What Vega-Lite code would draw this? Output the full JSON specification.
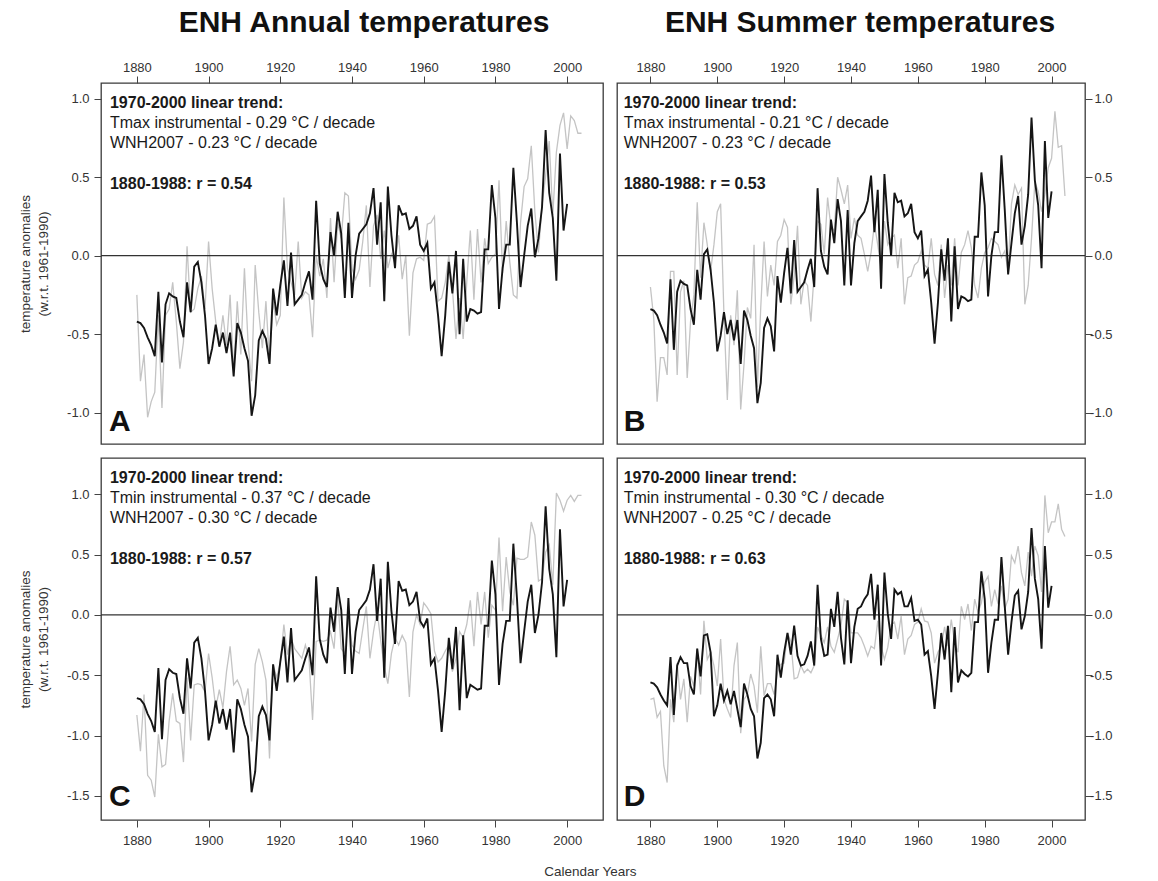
{
"$schema": "https://vega.github.io/schema/vega-lite/v6.json",
"background": "white",
"padding": {"left": 17, "top": 7, "right": 5, "bottom": 5},
"datasets": {"t": [
{"year":1880,"Ai":-0.42,"Aw":-0.25,"Bi":-0.34,"Bw":-0.20,"Ci":-0.69,"Cw":-0.83,"Di":-0.56,"Dw":-0.70},
{"year":1881,"Ai":-0.43,"Aw":-0.80,"Bi":-0.35,"Bw":-0.40,"Ci":-0.70,"Cw":-1.13,"Di":-0.57,"Dw":-0.69},
{"year":1882,"Ai":-0.46,"Aw":-0.63,"Bi":-0.38,"Bw":-0.93,"Ci":-0.74,"Cw":-0.66,"Di":-0.60,"Dw":-0.85},
{"year":1883,"Ai":-0.52,"Aw":-1.03,"Bi":-0.44,"Bw":-0.65,"Ci":-0.82,"Cw":-1.33,"Di":-0.66,"Dw":-0.80},
{"year":1884,"Ai":-0.57,"Aw":-0.93,"Bi":-0.49,"Bw":-0.65,"Ci":-0.88,"Cw":-1.37,"Di":-0.71,"Dw":-1.25},
{"year":1885,"Ai":-0.64,"Aw":-0.87,"Bi":-0.56,"Bw":-0.76,"Ci":-0.97,"Cw":-1.51,"Di":-0.75,"Dw":-1.39},
{"year":1886,"Ai":-0.23,"Aw":-0.38,"Bi":-0.15,"Bw":-0.10,"Ci":-0.44,"Cw":-0.99,"Di":-0.35,"Dw":-0.70},
{"year":1887,"Ai":-0.68,"Aw":-0.97,"Bi":-0.60,"Bw":-0.10,"Ci":-1.03,"Cw":-1.26,"Di":-0.83,"Dw":-0.89},
{"year":1888,"Ai":-0.31,"Aw":-0.38,"Bi":-0.23,"Bw":-0.76,"Ci":-0.54,"Cw":-1.24,"Di":-0.42,"Dw":-0.40},
{"year":1889,"Ai":-0.24,"Aw":-0.34,"Bi":-0.16,"Bw":-0.23,"Ci":-0.45,"Cw":-0.88,"Di":-0.35,"Dw":-0.70},
{"year":1890,"Ai":-0.26,"Aw":-0.17,"Bi":-0.18,"Bw":-0.16,"Ci":-0.48,"Cw":-0.65,"Di":-0.40,"Dw":-0.53},
{"year":1891,"Ai":-0.27,"Aw":-0.42,"Bi":-0.19,"Bw":-0.78,"Ci":-0.49,"Cw":-0.88,"Di":-0.40,"Dw":-0.89},
{"year":1892,"Ai":-0.42,"Aw":-0.72,"Bi":-0.34,"Bw":-0.42,"Ci":-0.69,"Cw":-0.90,"Di":-0.59,"Dw":-0.51},
{"year":1893,"Ai":-0.52,"Aw":-0.55,"Bi":-0.44,"Bw":-0.25,"Ci":-0.82,"Cw":-1.22,"Di":-0.66,"Dw":-0.59},
{"year":1894,"Ai":-0.17,"Aw":0.06,"Bi":-0.09,"Bw":0.34,"Ci":-0.36,"Cw":-0.52,"Di":-0.28,"Dw":-0.28},
{"year":1895,"Ai":-0.36,"Aw":-0.36,"Bi":-0.28,"Bw":-0.14,"Ci":-0.61,"Cw":-1.04,"Di":-0.51,"Dw":-0.66},
{"year":1896,"Ai":-0.07,"Aw":-0.34,"Bi":0.01,"Bw":0.21,"Ci":-0.23,"Cw":-0.58,"Di":-0.17,"Dw":-0.05},
{"year":1897,"Ai":-0.04,"Aw":-0.21,"Bi":0.04,"Bw":0.07,"Ci":-0.19,"Cw":-0.57,"Di":-0.16,"Dw":-0.37},
{"year":1898,"Ai":-0.17,"Aw":-0.13,"Bi":-0.09,"Bw":-0.10,"Ci":-0.36,"Cw":-0.58,"Di":-0.31,"Dw":-0.31},
{"year":1899,"Ai":-0.38,"Aw":-0.34,"Bi":-0.30,"Bw":0.07,"Ci":-0.63,"Cw":-0.64,"Di":-0.84,"Dw":-0.42},
{"year":1900,"Ai":-0.69,"Aw":0.09,"Bi":-0.61,"Bw":0.28,"Ci":-1.04,"Cw":-0.32,"Di":-0.75,"Dw":-0.59},
{"year":1901,"Ai":-0.59,"Aw":-0.21,"Bi":-0.51,"Bw":0.33,"Ci":-0.91,"Cw":-0.52,"Di":-0.57,"Dw":-0.20},
{"year":1902,"Ai":-0.44,"Aw":-0.42,"Bi":-0.36,"Bw":-0.38,"Ci":-0.71,"Cw":-0.77,"Di":-0.71,"Dw":-0.70},
{"year":1903,"Ai":-0.58,"Aw":-0.57,"Bi":-0.50,"Bw":-0.92,"Ci":-0.90,"Cw":-0.62,"Di":-0.63,"Dw":-0.78},
{"year":1904,"Ai":-0.49,"Aw":-0.38,"Bi":-0.41,"Bw":-0.38,"Ci":-0.78,"Cw":-0.77,"Di":-0.74,"Dw":-0.85},
{"year":1905,"Ai":-0.62,"Aw":-0.57,"Bi":-0.54,"Bw":-0.57,"Ci":-0.95,"Cw":-0.47,"Di":-0.63,"Dw":-0.42},
{"year":1906,"Ai":-0.49,"Aw":-0.25,"Bi":-0.41,"Bw":-0.22,"Ci":-0.78,"Cw":-0.26,"Di":-0.78,"Dw":-0.23},
{"year":1907,"Ai":-0.77,"Aw":-0.74,"Bi":-0.69,"Bw":-0.98,"Ci":-1.14,"Cw":-0.58,"Di":-0.93,"Dw":-0.98},
{"year":1908,"Ai":-0.43,"Aw":-0.29,"Bi":-0.35,"Bw":-0.69,"Ci":-0.70,"Cw":-0.54,"Di":-0.57,"Dw":-0.70},
{"year":1909,"Ai":-0.49,"Aw":-0.63,"Bi":-0.41,"Bw":-0.33,"Ci":-0.78,"Cw":-0.61,"Di":-0.66,"Dw":-0.66},
{"year":1910,"Ai":-0.59,"Aw":-0.08,"Bi":-0.51,"Bw":-0.40,"Ci":-0.91,"Cw":-0.75,"Di":-0.78,"Dw":-0.49},
{"year":1911,"Ai":-0.67,"Aw":-0.55,"Bi":-0.59,"Bw":0.07,"Ci":-1.01,"Cw":-0.61,"Di":-0.84,"Dw":-0.59},
{"year":1912,"Ai":-1.02,"Aw":-0.80,"Bi":-0.94,"Bw":-0.84,"Ci":-1.47,"Cw":-1.05,"Di":-1.19,"Dw":-0.81},
{"year":1913,"Ai":-0.89,"Aw":-0.06,"Bi":-0.81,"Bw":-0.33,"Ci":-1.30,"Cw":-0.41,"Di":-1.06,"Dw":-0.26},
{"year":1914,"Ai":-0.54,"Aw":-0.36,"Bi":-0.46,"Bw":0.09,"Ci":-0.84,"Cw":-0.28,"Di":-0.69,"Dw":-0.67},
{"year":1915,"Ai":-0.48,"Aw":-0.59,"Bi":-0.40,"Bw":-0.26,"Ci":-0.76,"Cw":-0.39,"Di":-0.66,"Dw":-0.57},
{"year":1916,"Ai":-0.53,"Aw":-0.29,"Bi":-0.45,"Bw":-0.06,"Ci":-0.83,"Cw":-0.54,"Di":-0.70,"Dw":-0.57},
{"year":1917,"Ai":-0.69,"Aw":-0.68,"Bi":-0.61,"Bw":-0.19,"Ci":-1.04,"Cw":-1.19,"Di":-0.84,"Dw":-0.66},
{"year":1918,"Ai":-0.21,"Aw":-0.29,"Bi":-0.13,"Bw":0.09,"Ci":-0.41,"Cw":-0.41,"Di":-0.33,"Dw":-0.48},
{"year":1919,"Ai":-0.38,"Aw":-0.44,"Bi":-0.30,"Bw":0.13,"Ci":-0.63,"Cw":-0.52,"Di":-0.52,"Dw":-0.41},
{"year":1920,"Ai":-0.19,"Aw":-0.38,"Bi":-0.11,"Bw":0.23,"Ci":-0.39,"Cw":-0.40,"Di":-0.31,"Dw":-0.40},
{"year":1921,"Ai":-0.03,"Aw":0.37,"Bi":0.05,"Bw":0.18,"Ci":-0.18,"Cw":-0.08,"Di":-0.15,"Dw":-0.15},
{"year":1922,"Ai":-0.32,"Aw":-0.08,"Bi":-0.24,"Bw":-0.31,"Ci":-0.56,"Cw":-0.33,"Di":-0.33,"Dw":-0.22},
{"year":1923,"Ai":0.02,"Aw":-0.17,"Bi":0.10,"Bw":-0.13,"Ci":-0.11,"Cw":-0.19,"Di":-0.09,"Dw":-0.53},
{"year":1924,"Ai":-0.31,"Aw":-0.25,"Bi":-0.23,"Bw":0.19,"Ci":-0.54,"Cw":-0.28,"Di":-0.34,"Dw":-0.52},
{"year":1925,"Ai":-0.28,"Aw":0.09,"Bi":-0.20,"Bw":-0.31,"Ci":-0.50,"Cw":-0.32,"Di":-0.42,"Dw":-0.42},
{"year":1926,"Ai":-0.25,"Aw":-0.27,"Bi":-0.17,"Bw":-0.16,"Ci":-0.46,"Cw":-0.36,"Di":-0.41,"Dw":-0.48},
{"year":1927,"Ai":-0.17,"Aw":-0.23,"Bi":-0.09,"Bw":-0.19,"Ci":-0.36,"Cw":-0.25,"Di":-0.34,"Dw":-0.45},
{"year":1928,"Ai":-0.10,"Aw":-0.25,"Bi":-0.02,"Bw":-0.42,"Ci":-0.27,"Cw":-0.36,"Di":-0.22,"Dw":-0.48},
{"year":1929,"Ai":-0.28,"Aw":-0.52,"Bi":-0.20,"Bw":-0.11,"Ci":-0.50,"Cw":-0.87,"Di":-0.42,"Dw":-0.42},
{"year":1930,"Ai":0.35,"Aw":0.00,"Bi":0.43,"Bw":0.22,"Ci":0.32,"Cw":-0.22,"Di":0.25,"Dw":-0.10},
{"year":1931,"Ai":-0.05,"Aw":-0.13,"Bi":0.03,"Bw":0.20,"Ci":-0.20,"Cw":-0.21,"Di":-0.20,"Dw":-0.17},
{"year":1932,"Ai":-0.15,"Aw":-0.02,"Bi":-0.07,"Bw":0.01,"Ci":-0.33,"Cw":-0.22,"Di":-0.34,"Dw":-0.23},
{"year":1933,"Ai":-0.20,"Aw":-0.27,"Bi":-0.12,"Bw":0.37,"Ci":-0.40,"Cw":-0.21,"Di":-0.33,"Dw":-0.10},
{"year":1934,"Ai":0.15,"Aw":0.24,"Bi":0.23,"Bw":0.18,"Ci":0.06,"Cw":-0.14,"Di":0.05,"Dw":-0.26},
{"year":1935,"Ai":0.00,"Aw":-0.17,"Bi":0.08,"Bw":0.16,"Ci":-0.14,"Cw":-0.28,"Di":-0.10,"Dw":-0.31},
{"year":1936,"Ai":0.28,"Aw":0.21,"Bi":0.36,"Bw":0.50,"Ci":0.23,"Cw":0.15,"Di":0.19,"Dw":-0.20},
{"year":1937,"Ai":0.14,"Aw":0.11,"Bi":0.22,"Bw":0.42,"Ci":0.04,"Cw":-0.28,"Di":-0.19,"Dw":-0.09},
{"year":1938,"Ai":-0.27,"Aw":0.40,"Bi":-0.19,"Bw":0.33,"Ci":-0.49,"Cw":-0.32,"Di":-0.41,"Dw":0.13},
{"year":1939,"Ai":0.21,"Aw":0.38,"Bi":0.29,"Bw":0.45,"Ci":0.14,"Cw":-0.03,"Di":0.12,"Dw":0.10},
{"year":1940,"Ai":-0.27,"Aw":-0.08,"Bi":-0.19,"Bw":0.11,"Ci":-0.49,"Cw":-0.25,"Di":-0.40,"Dw":-0.15},
{"year":1941,"Ai":0.00,"Aw":-0.15,"Bi":0.08,"Bw":0.24,"Ci":-0.14,"Cw":-0.30,"Di":-0.10,"Dw":-0.15},
{"year":1942,"Ai":0.14,"Aw":-0.09,"Bi":0.22,"Bw":0.13,"Ci":0.04,"Cw":-0.32,"Di":0.05,"Dw":-0.15},
{"year":1943,"Ai":0.17,"Aw":0.09,"Bi":0.25,"Bw":0.11,"Ci":0.08,"Cw":-0.12,"Di":0.07,"Dw":-0.19},
{"year":1944,"Ai":0.20,"Aw":0.32,"Bi":0.28,"Bw":0.01,"Ci":0.12,"Cw":0.07,"Di":0.13,"Dw":-0.26},
{"year":1945,"Ai":0.27,"Aw":-0.20,"Bi":0.35,"Bw":-0.10,"Ci":0.21,"Cw":-0.36,"Di":0.17,"Dw":-0.34},
{"year":1946,"Ai":0.43,"Aw":0.19,"Bi":0.51,"Bw":0.02,"Ci":0.42,"Cw":-0.14,"Di":0.34,"Dw":-0.26},
{"year":1947,"Ai":0.07,"Aw":0.26,"Bi":0.15,"Bw":0.20,"Ci":-0.05,"Cw":0.03,"Di":-0.04,"Dw":-0.28},
{"year":1948,"Ai":0.34,"Aw":-0.02,"Bi":0.42,"Bw":0.07,"Ci":0.30,"Cw":-0.21,"Di":0.25,"Dw":-0.05},
{"year":1949,"Ai":-0.29,"Aw":0.16,"Bi":-0.21,"Bw":-0.08,"Ci":-0.52,"Cw":-0.43,"Di":-0.42,"Dw":-0.26},
{"year":1950,"Ai":0.44,"Aw":-0.08,"Bi":0.52,"Bw":0.22,"Ci":0.44,"Cw":-0.57,"Di":0.35,"Dw":-0.37},
{"year":1951,"Ai":0.13,"Aw":0.01,"Bi":0.21,"Bw":0.07,"Ci":0.03,"Cw":-0.32,"Di":0.01,"Dw":-0.27},
{"year":1952,"Ai":-0.08,"Aw":-0.05,"Bi":0.00,"Bw":0.11,"Ci":-0.24,"Cw":-0.19,"Di":-0.20,"Dw":-0.08},
{"year":1953,"Ai":0.32,"Aw":0.13,"Bi":0.40,"Bw":0.13,"Ci":0.28,"Cw":-0.25,"Di":0.21,"Dw":-0.06},
{"year":1954,"Ai":0.26,"Aw":-0.15,"Bi":0.34,"Bw":-0.08,"Ci":0.20,"Cw":-0.17,"Di":0.17,"Dw":-0.20},
{"year":1955,"Ai":0.27,"Aw":0.00,"Bi":0.35,"Bw":0.11,"Ci":0.21,"Cw":-0.23,"Di":0.19,"Dw":-0.01},
{"year":1956,"Ai":0.17,"Aw":-0.51,"Bi":0.25,"Bw":-0.31,"Ci":0.08,"Cw":-0.68,"Di":0.07,"Dw":-0.33},
{"year":1957,"Ai":0.19,"Aw":-0.11,"Bi":0.27,"Bw":-0.14,"Ci":0.11,"Cw":-0.14,"Di":0.07,"Dw":-0.20},
{"year":1958,"Ai":0.25,"Aw":-0.02,"Bi":0.33,"Bw":-0.13,"Ci":0.19,"Cw":0.00,"Di":0.14,"Dw":-0.17},
{"year":1959,"Ai":0.07,"Aw":-0.01,"Bi":0.15,"Bw":-0.06,"Ci":-0.05,"Cw":-0.08,"Di":-0.05,"Dw":-0.08},
{"year":1960,"Ai":0.03,"Aw":-0.03,"Bi":0.11,"Bw":-0.04,"Ci":-0.10,"Cw":0.10,"Di":-0.04,"Dw":-0.06},
{"year":1961,"Ai":0.08,"Aw":0.20,"Bi":0.16,"Bw":0.03,"Ci":-0.03,"Cw":0.06,"Di":-0.08,"Dw":0.05},
{"year":1962,"Ai":-0.21,"Aw":0.21,"Bi":-0.13,"Bw":-0.06,"Ci":-0.41,"Cw":0.01,"Di":-0.33,"Dw":-0.05},
{"year":1963,"Ai":-0.17,"Aw":0.25,"Bi":-0.09,"Bw":-0.08,"Ci":-0.36,"Cw":-0.30,"Di":-0.30,"Dw":-0.06},
{"year":1964,"Ai":-0.38,"Aw":-0.29,"Bi":-0.30,"Bw":0.11,"Ci":-0.63,"Cw":-0.39,"Di":-0.51,"Dw":-0.15},
{"year":1965,"Ai":-0.64,"Aw":-0.27,"Bi":-0.56,"Bw":-0.12,"Ci":-0.97,"Cw":-0.36,"Di":-0.78,"Dw":-0.40},
{"year":1966,"Ai":-0.38,"Aw":-0.17,"Bi":-0.30,"Bw":-0.19,"Ci":-0.63,"Cw":-0.30,"Di":-0.48,"Dw":-0.31},
{"year":1967,"Ai":-0.04,"Aw":0.00,"Bi":0.04,"Bw":0.07,"Ci":-0.19,"Cw":-0.25,"Di":-0.15,"Dw":-0.26},
{"year":1968,"Ai":-0.24,"Aw":-0.21,"Bi":-0.16,"Bw":-0.27,"Ci":-0.45,"Cw":-0.47,"Di":-0.37,"Dw":-0.10},
{"year":1969,"Ai":0.03,"Aw":-0.53,"Bi":0.11,"Bw":-0.06,"Ci":-0.10,"Cw":-0.36,"Di":-0.09,"Dw":-0.26},
{"year":1970,"Ai":-0.50,"Aw":-0.27,"Bi":-0.42,"Bw":-0.19,"Ci":-0.79,"Cw":-0.14,"Di":-0.64,"Dw":-0.04},
{"year":1971,"Ai":-0.02,"Aw":-0.53,"Bi":0.06,"Bw":0.11,"Ci":-0.17,"Cw":-0.19,"Di":-0.10,"Dw":-0.23},
{"year":1972,"Ai":-0.42,"Aw":-0.17,"Bi":-0.34,"Bw":-0.19,"Ci":-0.69,"Cw":-0.08,"Di":-0.56,"Dw":-0.31},
{"year":1973,"Ai":-0.34,"Aw":0.16,"Bi":-0.26,"Bw":0.02,"Ci":-0.58,"Cw":0.12,"Di":-0.46,"Dw":0.07},
{"year":1974,"Ai":-0.35,"Aw":-0.28,"Bi":-0.27,"Bw":0.07,"Ci":-0.60,"Cw":-0.26,"Di":-0.49,"Dw":-0.04},
{"year":1975,"Ai":-0.37,"Aw":0.17,"Bi":-0.29,"Bw":0.16,"Ci":-0.62,"Cw":0.19,"Di":-0.51,"Dw":0.09},
{"year":1976,"Ai":-0.36,"Aw":-0.17,"Bi":-0.28,"Bw":0.05,"Ci":-0.61,"Cw":-0.08,"Di":-0.48,"Dw":-0.13},
{"year":1977,"Ai":0.04,"Aw":0.11,"Bi":0.12,"Bw":-0.19,"Ci":-0.09,"Cw":0.19,"Di":-0.06,"Dw":0.13},
{"year":1978,"Ai":0.04,"Aw":-0.05,"Bi":0.12,"Bw":-0.27,"Ci":-0.09,"Cw":-0.19,"Di":-0.06,"Dw":0.02},
{"year":1979,"Ai":0.45,"Aw":-0.01,"Bi":0.53,"Bw":-0.08,"Ci":0.45,"Cw":0.08,"Di":0.36,"Dw":0.10},
{"year":1980,"Ai":0.24,"Aw":0.01,"Bi":0.32,"Bw":0.02,"Ci":0.17,"Cw":0.04,"Di":0.13,"Dw":0.27},
{"year":1981,"Ai":-0.34,"Aw":0.48,"Bi":-0.26,"Bw":0.05,"Ci":-0.58,"Cw":0.64,"Di":-0.48,"Dw":0.32},
{"year":1982,"Ai":-0.08,"Aw":-0.11,"Bi":0.00,"Bw":0.11,"Ci":-0.24,"Cw":0.03,"Di":-0.23,"Dw":0.07},
{"year":1983,"Ai":0.07,"Aw":0.22,"Bi":0.15,"Bw":0.09,"Ci":-0.05,"Cw":0.48,"Di":-0.04,"Dw":0.21},
{"year":1984,"Ai":0.07,"Aw":-0.04,"Bi":0.15,"Bw":0.07,"Ci":-0.05,"Cw":0.19,"Di":-0.04,"Dw":0.09},
{"year":1985,"Ai":0.56,"Aw":-0.25,"Bi":0.64,"Bw":-0.01,"Ci":0.59,"Cw":0.08,"Di":0.48,"Dw":0.24},
{"year":1986,"Ai":0.21,"Aw":-0.27,"Bi":0.29,"Bw":0.03,"Ci":0.14,"Cw":0.47,"Di":0.07,"Dw":0.05},
{"year":1987,"Ai":-0.20,"Aw":0.21,"Bi":-0.12,"Bw":-0.10,"Ci":-0.40,"Cw":0.46,"Di":-0.33,"Dw":0.13},
{"year":1988,"Ai":0.00,"Aw":0.44,"Bi":0.08,"Bw":0.33,"Ci":-0.14,"Cw":0.46,"Di":-0.06,"Dw":0.49},
{"year":1989,"Ai":0.19,"Aw":0.49,"Bi":0.27,"Bw":0.45,"Ci":0.11,"Cw":0.48,"Di":0.16,"Dw":0.43},
{"year":1990,"Ai":0.30,"Aw":0.70,"Bi":0.38,"Bw":0.39,"Ci":0.25,"Cw":0.77,"Di":0.20,"Dw":0.57},
{"year":1991,"Ai":-0.01,"Aw":0.28,"Bi":0.07,"Bw":0.43,"Ci":-0.15,"Cw":0.66,"Di":-0.12,"Dw":0.35},
{"year":1992,"Ai":0.11,"Aw":0.02,"Bi":0.19,"Bw":-0.31,"Ci":0.00,"Cw":0.28,"Di":-0.01,"Dw":0.24},
{"year":1993,"Ai":0.31,"Aw":0.32,"Bi":0.39,"Bw":-0.19,"Ci":0.27,"Cw":0.30,"Di":0.19,"Dw":0.52},
{"year":1994,"Ai":0.80,"Aw":0.51,"Bi":0.88,"Bw":0.11,"Ci":0.90,"Cw":0.52,"Di":0.72,"Dw":0.32},
{"year":1995,"Ai":0.40,"Aw":0.73,"Bi":0.48,"Bw":0.47,"Ci":0.38,"Cw":0.58,"Di":0.30,"Dw":0.57},
{"year":1996,"Ai":0.24,"Aw":0.26,"Bi":0.32,"Bw":0.41,"Ci":0.17,"Cw":0.25,"Di":0.13,"Dw":0.49},
{"year":1997,"Ai":-0.16,"Aw":0.66,"Bi":-0.08,"Bw":0.28,"Ci":-0.35,"Cw":1.01,"Di":-0.28,"Dw":0.19},
{"year":1998,"Ai":0.65,"Aw":0.83,"Bi":0.73,"Bw":0.39,"Ci":0.71,"Cw":0.95,"Di":0.57,"Dw":0.99},
{"year":1999,"Ai":0.16,"Aw":0.91,"Bi":0.24,"Bw":0.56,"Ci":0.07,"Cw":0.86,"Di":0.06,"Dw":0.68},
{"year":2000,"Ai":0.33,"Aw":0.68,"Bi":0.41,"Bw":0.62,"Ci":0.29,"Cw":0.95,"Di":0.24,"Dw":0.77},
{"year":2001,"Aw":0.89,"Bw":0.92,"Cw":0.99,"Dw":0.77},
{"year":2002,"Aw":0.86,"Bw":0.69,"Cw":0.94,"Dw":0.92},
{"year":2003,"Aw":0.78,"Bw":0.70,"Cw":0.99,"Dw":0.71},
{"year":2004,"Aw":0.78,"Bw":0.38,"Cw":0.99,"Dw":0.65}
],
"one": [{}]},
"data": {"name": "t"},
"title": {"text": "Calendar Years", "orient": "bottom", "anchor": "middle", "fontSize": 13.5, "fontWeight": "normal", "color": "#333", "offset": 17, "dx": 25},
"spacing": 12,
"vconcat": [
{"hconcat": [
{"width": 502, "height": 361,
 "title": {"text": "ENH Annual temperatures", "fontSize": 30, "fontWeight": "bold", "color": "#111", "anchor": "middle", "dx": 12, "offset": 23},
 "layer": [
  {"mark": {"type": "line", "color": "#c4c4c4", "strokeWidth": 1.3, "clip": true},
   "encoding": {
    "x": {"field": "year", "type": "quantitative", "scale": {"domain": [1870, 2010], "nice": false, "zero": false}, "axis": {"orient": "top", "values": [1880,1900,1920,1940,1960,1980,2000], "format": "d", "title": null, "labelPadding": 2}},
    "y": {"field": "Aw", "type": "quantitative", "scale": {"domain": [-1.2, 1.1], "nice": false, "zero": false}, "axis": {"orient": "left", "values": [-1,-0.5,0,0.5,1], "labelExpr": "replace(format(datum.value,'.1f'),'\u2212','-')", "title": ["temperature anomalies", "(w.r.t. 1961-1990)"], "titlePadding": 16, "titleLineHeight": 18, "labelPadding": 5}}}},
  {"data": {"name": "one"}, "mark": {"type": "rule", "color": "#333", "strokeWidth": 1.2}, "encoding": {"y": {"datum": 0}}},
  {"mark": {"type": "line", "color": "#151515", "strokeWidth": 1.9, "clip": true},
   "encoding": {"x": {"field": "year", "type": "quantitative"}, "y": {"field": "Ai", "type": "quantitative"}}},
  {"data": {"name": "one"}, "mark": {"type": "text", "align": "left", "baseline": "alphabetic", "fontSize": 16, "fontWeight": "bold", "color": "#1a1a1a"}, "encoding": {"x": {"datum": 1872.5}, "y": {"datum": 0.939}, "text": {"value": "1970-2000 linear trend:"}}},
  {"data": {"name": "one"}, "mark": {"type": "text", "align": "left", "baseline": "alphabetic", "fontSize": 16, "color": "#1a1a1a"}, "encoding": {"x": {"datum": 1872.5}, "y": {"datum": 0.811}, "text": {"value": "Tmax instrumental - 0.29 °C / decade"}}},
  {"data": {"name": "one"}, "mark": {"type": "text", "align": "left", "baseline": "alphabetic", "fontSize": 16, "color": "#1a1a1a"}, "encoding": {"x": {"datum": 1872.5}, "y": {"datum": 0.684}, "text": {"value": "WNH2007 - 0.23 °C / decade"}}},
  {"data": {"name": "one"}, "mark": {"type": "text", "align": "left", "baseline": "alphabetic", "fontSize": 16, "fontWeight": "bold", "color": "#1a1a1a"}, "encoding": {"x": {"datum": 1872.5}, "y": {"datum": 0.423}, "text": {"value": "1880-1988: r = 0.54"}}},
  {"data": {"name": "one"}, "mark": {"type": "text", "align": "left", "baseline": "alphabetic", "fontSize": 30, "fontWeight": "bold", "color": "#111"}, "encoding": {"x": {"datum": 1872.2}, "y": {"datum": -1.117}, "text": {"value": "A"}}}
 ]},
{"width": 468, "height": 361,
 "title": {"text": "ENH Summer temperatures", "fontSize": 30, "fontWeight": "bold", "color": "#111", "anchor": "middle", "dx": 9, "offset": 23},
 "layer": [
  {"mark": {"type": "line", "color": "#c4c4c4", "strokeWidth": 1.3, "clip": true},
   "encoding": {
    "x": {"field": "year", "type": "quantitative", "scale": {"domain": [1870, 2010], "nice": false, "zero": false}, "axis": {"orient": "top", "values": [1880,1900,1920,1940,1960,1980,2000], "format": "d", "title": null, "labelPadding": 2}},
    "y": {"field": "Bw", "type": "quantitative", "scale": {"domain": [-1.2, 1.1], "nice": false, "zero": false}, "axis": {"orient": "right", "values": [-1,-0.5,0,0.5,1], "labelExpr": "replace(format(datum.value,'.1f'),'\u2212','-')", "title": null, "labelAlign": "right", "labelPadding": 20}}}},
  {"data": {"name": "one"}, "mark": {"type": "rule", "color": "#333", "strokeWidth": 1.2}, "encoding": {"y": {"datum": 0}}},
  {"mark": {"type": "line", "color": "#151515", "strokeWidth": 1.9, "clip": true},
   "encoding": {"x": {"field": "year", "type": "quantitative"}, "y": {"field": "Bi", "type": "quantitative"}}},
  {"data": {"name": "one"}, "mark": {"type": "text", "align": "left", "baseline": "alphabetic", "fontSize": 16, "fontWeight": "bold", "color": "#1a1a1a"}, "encoding": {"x": {"datum": 1872.0}, "y": {"datum": 0.939}, "text": {"value": "1970-2000 linear trend:"}}},
  {"data": {"name": "one"}, "mark": {"type": "text", "align": "left", "baseline": "alphabetic", "fontSize": 16, "color": "#1a1a1a"}, "encoding": {"x": {"datum": 1872.0}, "y": {"datum": 0.811}, "text": {"value": "Tmax instrumental - 0.21 °C / decade"}}},
  {"data": {"name": "one"}, "mark": {"type": "text", "align": "left", "baseline": "alphabetic", "fontSize": 16, "color": "#1a1a1a"}, "encoding": {"x": {"datum": 1872.0}, "y": {"datum": 0.684}, "text": {"value": "WNH2007 - 0.23 °C / decade"}}},
  {"data": {"name": "one"}, "mark": {"type": "text", "align": "left", "baseline": "alphabetic", "fontSize": 16, "fontWeight": "bold", "color": "#1a1a1a"}, "encoding": {"x": {"datum": 1872.0}, "y": {"datum": 0.423}, "text": {"value": "1880-1988: r = 0.53"}}},
  {"data": {"name": "one"}, "mark": {"type": "text", "align": "left", "baseline": "alphabetic", "fontSize": 30, "fontWeight": "bold", "color": "#111"}, "encoding": {"x": {"datum": 1872.0}, "y": {"datum": -1.117}, "text": {"value": "B"}}}
 ]}
], "spacing": 10},
{"hconcat": [
{"width": 502, "height": 362,
 "layer": [
  {"mark": {"type": "line", "color": "#c4c4c4", "strokeWidth": 1.3, "clip": true},
   "encoding": {
    "x": {"field": "year", "type": "quantitative", "scale": {"domain": [1870, 2010], "nice": false, "zero": false}, "axis": {"orient": "bottom", "values": [1880,1900,1920,1940,1960,1980,2000], "format": "d", "title": null, "labelPadding": 7}},
    "y": {"field": "Cw", "type": "quantitative", "scale": {"domain": [-1.7, 1.3], "nice": false, "zero": false}, "axis": {"orient": "left", "values": [-1.5,-1,-0.5,0,0.5,1], "labelExpr": "replace(format(datum.value,'.1f'),'\u2212','-')", "title": ["temperature anomalies", "(w.r.t. 1961-1990)"], "titlePadding": 16, "titleLineHeight": 18, "labelPadding": 5}}}},
  {"data": {"name": "one"}, "mark": {"type": "rule", "color": "#333", "strokeWidth": 1.2}, "encoding": {"y": {"datum": 0}}},
  {"mark": {"type": "line", "color": "#151515", "strokeWidth": 1.9, "clip": true},
   "encoding": {"x": {"field": "year", "type": "quantitative"}, "y": {"field": "Ci", "type": "quantitative"}}},
  {"data": {"name": "one"}, "mark": {"type": "text", "align": "left", "baseline": "alphabetic", "fontSize": 16, "fontWeight": "bold", "color": "#1a1a1a"}, "encoding": {"x": {"datum": 1872.5}, "y": {"datum": 1.090}, "text": {"value": "1970-2000 linear trend:"}}},
  {"data": {"name": "one"}, "mark": {"type": "text", "align": "left", "baseline": "alphabetic", "fontSize": 16, "color": "#1a1a1a"}, "encoding": {"x": {"datum": 1872.5}, "y": {"datum": 0.925}, "text": {"value": "Tmin instrumental - 0.37 °C / decade"}}},
  {"data": {"name": "one"}, "mark": {"type": "text", "align": "left", "baseline": "alphabetic", "fontSize": 16, "color": "#1a1a1a"}, "encoding": {"x": {"datum": 1872.5}, "y": {"datum": 0.759}, "text": {"value": "WNH2007 - 0.30 °C / decade"}}},
  {"data": {"name": "one"}, "mark": {"type": "text", "align": "left", "baseline": "alphabetic", "fontSize": 16, "fontWeight": "bold", "color": "#1a1a1a"}, "encoding": {"x": {"datum": 1872.5}, "y": {"datum": 0.419}, "text": {"value": "1880-1988: r = 0.57"}}},
  {"data": {"name": "one"}, "mark": {"type": "text", "align": "left", "baseline": "alphabetic", "fontSize": 30, "fontWeight": "bold", "color": "#111"}, "encoding": {"x": {"datum": 1872.2}, "y": {"datum": -1.584}, "text": {"value": "C"}}}
 ]},
{"width": 468, "height": 362,
 "layer": [
  {"mark": {"type": "line", "color": "#c4c4c4", "strokeWidth": 1.3, "clip": true},
   "encoding": {
    "x": {"field": "year", "type": "quantitative", "scale": {"domain": [1870, 2010], "nice": false, "zero": false}, "axis": {"orient": "bottom", "values": [1880,1900,1920,1940,1960,1980,2000], "format": "d", "title": null, "labelPadding": 7}},
    "y": {"field": "Dw", "type": "quantitative", "scale": {"domain": [-1.7, 1.3], "nice": false, "zero": false}, "axis": {"orient": "right", "values": [-1.5,-1,-0.5,0,0.5,1], "labelExpr": "replace(format(datum.value,'.1f'),'\u2212','-')", "title": null, "labelAlign": "right", "labelPadding": 20}}}},
  {"data": {"name": "one"}, "mark": {"type": "rule", "color": "#333", "strokeWidth": 1.2}, "encoding": {"y": {"datum": 0}}},
  {"mark": {"type": "line", "color": "#151515", "strokeWidth": 1.9, "clip": true},
   "encoding": {"x": {"field": "year", "type": "quantitative"}, "y": {"field": "Di", "type": "quantitative"}}},
  {"data": {"name": "one"}, "mark": {"type": "text", "align": "left", "baseline": "alphabetic", "fontSize": 16, "fontWeight": "bold", "color": "#1a1a1a"}, "encoding": {"x": {"datum": 1872.0}, "y": {"datum": 1.090}, "text": {"value": "1970-2000 linear trend:"}}},
  {"data": {"name": "one"}, "mark": {"type": "text", "align": "left", "baseline": "alphabetic", "fontSize": 16, "color": "#1a1a1a"}, "encoding": {"x": {"datum": 1872.0}, "y": {"datum": 0.925}, "text": {"value": "Tmin instrumental - 0.30 °C / decade"}}},
  {"data": {"name": "one"}, "mark": {"type": "text", "align": "left", "baseline": "alphabetic", "fontSize": 16, "color": "#1a1a1a"}, "encoding": {"x": {"datum": 1872.0}, "y": {"datum": 0.759}, "text": {"value": "WNH2007 - 0.25 °C / decade"}}},
  {"data": {"name": "one"}, "mark": {"type": "text", "align": "left", "baseline": "alphabetic", "fontSize": 16, "fontWeight": "bold", "color": "#1a1a1a"}, "encoding": {"x": {"datum": 1872.0}, "y": {"datum": 0.419}, "text": {"value": "1880-1988: r = 0.63"}}},
  {"data": {"name": "one"}, "mark": {"type": "text", "align": "left", "baseline": "alphabetic", "fontSize": 30, "fontWeight": "bold", "color": "#111"}, "encoding": {"x": {"datum": 1872.0}, "y": {"datum": -1.584}, "text": {"value": "D"}}}
 ]}
], "spacing": 10}
],
"config": {
 "font": "Liberation Sans",
 "view": {"stroke": "#3a3a3a", "strokeWidth": 1.3},
 "axis": {"grid": false, "domain": false, "tickSize": 7, "tickColor": "#444", "tickWidth": 1, "labelFontSize": 13, "labelColor": "#333", "labelFont": "Liberation Sans", "titleFont": "Liberation Sans", "titleFontSize": 13.5, "titleFontWeight": "normal", "titleColor": "#333"},
 "title": {"font": "Liberation Sans"},
 "text": {"font": "Liberation Sans"}
}
}
